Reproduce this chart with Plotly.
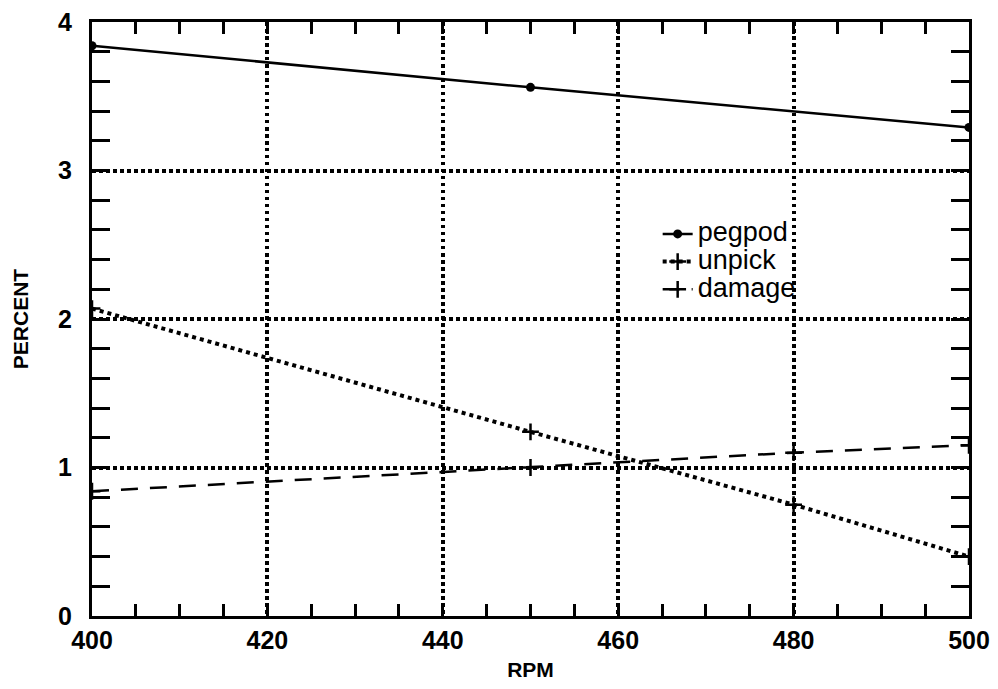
import plotly.graph_objects as go

# Data
pegpod_x = [400, 450, 500]
pegpod_y = [3.84, 3.56, 3.29]

unpick_x = [400, 450, 480, 500]
unpick_y = [2.07, 1.24, 0.75, 0.40]

damage_x = [400, 450, 480, 500]
damage_y = [0.84, 1.00, 1.10, 1.15]

x_ticks = [400, 420, 440, 460, 480, 500]
y_ticks = [0, 1, 2, 3, 4]

series_names = ["pegpod", "unpick", "damage"]

FONT = "Liberation Sans, Arial, sans-serif"


def big(name):
    return '<span style="font-size:27px">' + name + '</span>'


fig = go.Figure()
fig.add_trace(go.Scatter(
    x=pegpod_x, y=pegpod_y, name=big(series_names[0]), mode="lines+markers",
    line=dict(color="black", width=2.5, dash="solid"),
    marker=dict(symbol="circle", size=9, color="black"),
))
fig.add_trace(go.Scatter(
    x=unpick_x, y=unpick_y, name=big(series_names[1]), mode="lines+markers",
    line=dict(color="black", width=4, dash="dot"),
    marker=dict(symbol="cross-thin", size=12, color="black",
                line=dict(color="black", width=2.5)),
))
fig.add_trace(go.Scatter(
    x=damage_x, y=damage_y, name=big(series_names[2]), mode="lines+markers",
    line=dict(color="black", width=2.5, dash="17px,12px"),
    marker=dict(symbol="cross-thin", size=12, color="black",
                line=dict(color="black", width=2.5)),
))

axis_common = dict(
    showline=True, linecolor="black", linewidth=3, mirror="allticks",
    ticks="inside", tickcolor="black", tickwidth=3,
    showgrid=True, gridcolor="black", gridwidth=3.5, griddash="dot",
    zeroline=False, automargin=False, ticklabeloverflow="allow",
    tickfont=dict(family=FONT, size=25, color="black", weight="bold"),
)

fig.update_xaxes(
    range=[400, 500], tickmode="array", tickvals=x_ticks,
    ticktext=[str(v) for v in x_ticks], ticklen=12,
    minor=dict(dtick=5, tick0=400, ticks="inside", ticklen=12,
               tickwidth=3, tickcolor="black", showgrid=False),
    title=dict(text="RPM", font=dict(family=FONT, size=21, color="black", weight="bold"),
               standoff=10),
    ticklabelstandoff=0,
    **axis_common,
)
fig.update_yaxes(
    range=[0, 4], tickmode="array", tickvals=y_ticks,
    ticktext=[str(v) for v in y_ticks], ticklen=18,
    minor=dict(dtick=0.2, tick0=0, ticks="inside", ticklen=18,
               tickwidth=3, tickcolor="black", showgrid=False),
    title=dict(text="PERCENT", font=dict(family=FONT, size=21, color="black", weight="bold"),
               standoff=24),
    ticklabelstandoff=12,
    **axis_common,
)

fig.update_layout(
    width=998, height=689,
    margin=dict(l=84, r=37, t=14, b=81),
    paper_bgcolor="white", plot_bgcolor="white",
    showlegend=True,
    legend=dict(x=0.645, y=0.675, xanchor="left", yanchor="top",
                bgcolor="rgba(0,0,0,0)", borderwidth=0,
                font=dict(family=FONT, size=19, color="black"),
                itemwidth=30, tracegroupgap=0),
)

fig.write_html("out.html")
